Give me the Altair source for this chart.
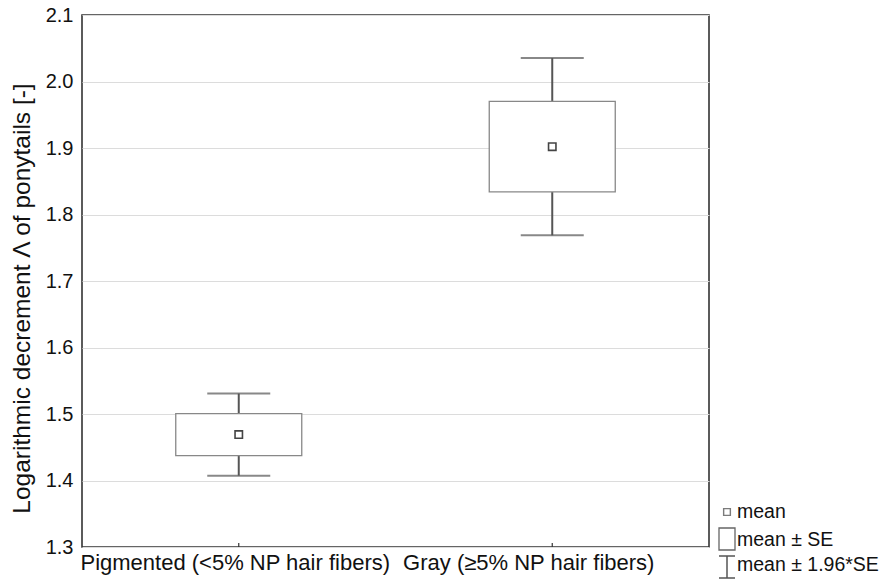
import altair as alt
import pandas as pd

categories = ["Pigmented (<5% NP hair fibers)", "Gray (≥5% NP hair fibers)"]
means = [1.469, 1.902]
se = [0.0315, 0.068]
y_ticks = [1.3, 1.4, 1.5, 1.6, 1.7, 1.8, 1.9, 2.0, 2.1]
legend_labels = ["mean", "mean ± SE", "mean ± 1.96*SE"]

df = pd.DataFrame({
    "cat": categories,
    "mean": means,
    "se_lo": [m - s for m, s in zip(means, se)],
    "se_hi": [m + s for m, s in zip(means, se)],
    "ci_lo": [m - 1.96 * s for m, s in zip(means, se)],
    "ci_hi": [m + 1.96 * s for m, s in zip(means, se)],
})

FONT = "Liberation Sans"
W, H = 627, 532

x_enc = alt.X("cat:N", sort=categories,
              scale=alt.Scale(type="point", padding=0.5),
              axis=alt.Axis(title=None, labelFontSize=22, labelFont=FONT,
                            labelColor="#111", labelPadding=5, ticks=False,
                            labelLimit=0, labelOverlap=False,
                            labelOffset={"condition": {"test": "datum.index > 0.5", "value": -24},
                                         "value": -4},
                            domain=False, grid=False, labelAngle=0))
y_scale = alt.Scale(domain=[1.3, 2.1], nice=False, zero=False)
y_enc_axis = alt.Axis(title="Logarithmic decrement Λ of ponytails [-]",
                      titleFontSize=24.5, titleFont=FONT, titleFontWeight="normal",
                      titleColor="#111", titlePadding=11, titleY=283,
                      labelFontSize=20, labelFont=FONT, labelColor="#111",
                      labelPadding=9, values=y_ticks, format=".1f",
                      ticks=False, domain=False, grid=True,
                      gridColor="#dcdcdc", gridWidth=1.2)

base = alt.Chart(df)

whisker = base.mark_rule(color="#555", strokeWidth=2).encode(
    x=x_enc,
    y=alt.Y("ci_lo:Q", scale=y_scale, axis=y_enc_axis),
    y2="ci_hi:Q",
)
box = base.mark_bar(size=126, fill="white", stroke="#888", strokeWidth=1.3).encode(
    x=alt.X("cat:N", sort=categories),
    y=alt.Y("se_lo:Q"),
    y2="se_hi:Q",
)
cap_hi = base.mark_tick(orient="horizontal", size=63, thickness=2, color="#555").encode(
    x=alt.X("cat:N", sort=categories), y=alt.Y("ci_hi:Q"))
cap_lo = base.mark_tick(orient="horizontal", size=63, thickness=2, color="#555").encode(
    x=alt.X("cat:N", sort=categories), y=alt.Y("ci_lo:Q"))
mean_pt = base.mark_point(shape="square", size=55, filled=False, fill="white",
                          stroke="#444", strokeWidth=1.6, opacity=1).encode(
    x=alt.X("cat:N", sort=categories), y=alt.Y("mean:Q"))
xticks = base.mark_rule(color="#333", strokeWidth=1.2).encode(
    x=alt.X("cat:N", sort=categories), y=alt.value(H), y2=alt.value(H - 4))

one = pd.DataFrame({"k": [0]})
lb = alt.Chart(one)
leg_sq = lb.mark_point(shape="square", size=45, filled=False, stroke="#444",
                       strokeWidth=1.4).encode(x=alt.value(645), y=alt.value(497))
leg_box = lb.mark_rect(fill="white", stroke="#666", strokeWidth=1.3).encode(
    x=alt.value(637), x2=alt.value(653), y=alt.value(513), y2=alt.value(535))
leg_wv = lb.mark_rule(color="#555", strokeWidth=1.5).encode(
    x=alt.value(645), y=alt.value(541), y2=alt.value(563))
leg_wt = lb.mark_rule(color="#555", strokeWidth=1.5).encode(
    x=alt.value(637), x2=alt.value(653), y=alt.value(541))
leg_wb = lb.mark_rule(color="#555", strokeWidth=1.5).encode(
    x=alt.value(637), x2=alt.value(653), y=alt.value(563))

leg_df = pd.DataFrame({"label": legend_labels, "ypos": [497, 525, 550]})
leg_text = alt.Chart(leg_df).mark_text(align="left", baseline="middle",
                                       font=FONT, fontSize=19.5, color="#111").encode(
    x=alt.value(655), y=alt.Y("ypos:Q", scale=None), text="label:N")

chart = alt.layer(
    whisker, box, cap_hi, cap_lo, mean_pt, xticks,
    leg_sq, leg_box, leg_wv, leg_wt, leg_wb, leg_text,
).properties(
    width=W, height=H,
    autosize=alt.AutoSizeParams(type="none"),
    padding={"left": 82, "top": 15, "right": 883 - 82 - W, "bottom": 582 - 15 - H},
    background="white",
).configure_view(stroke="#333", strokeWidth=1.6)

chart.save("out.html", embed_options={"renderer": "svg", "actions": False})
